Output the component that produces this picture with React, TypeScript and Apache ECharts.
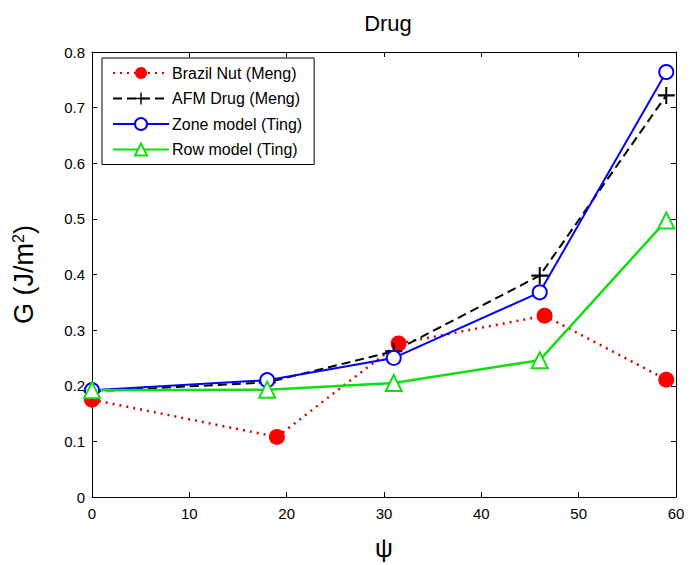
import React, { useEffect, useRef } from "react";
import * as echarts from "echarts";

const seriesNames = ["Brazil Nut (Meng)", "AFM Drug (Meng)", "Zone model (Ting)", "Row model (Ting)"];
const brazilX = [0, 19, 31.5, 46.5, 59];
const brazilY = [0.175, 0.108, 0.276, 0.326, 0.211];
const modelX = [0, 18, 31, 46, 59];
const afmY = [0.19, 0.206, 0.262, 0.398, 0.722];
const zoneY = [0.192, 0.21, 0.25, 0.368, 0.764];
const rowY = [0.192, 0.193, 0.205, 0.246, 0.497];
const xTicks = [0, 10, 20, 30, 40, 50, 60];
const yTicks = [0, 0.1, 0.2, 0.3, 0.4, 0.5, 0.6, 0.7, 0.8];

const pairs = (xs: number[], ys: number[]) => xs.map((x, i) => [x, ys[i]]);
const plusPath = "path://M4.4,0H5.6V4.4H10V5.6H5.6V10H4.4V5.6H0V4.4H4.4Z";
const FONT = "'Liberation Sans', Arial, sans-serif";

export default function App() {
  const ref = useRef<HTMLDivElement>(null);
  useEffect(() => {
    const chart = echarts.init(ref.current!, undefined, { renderer: "svg" });
    const axisCommon = {
      type: "value" as const,
      splitLine: { show: false },
      axisLine: { show: true, onZero: false, lineStyle: { color: "#000", width: 1 } },
      axisTick: { show: true, inside: true, length: 5, lineStyle: { color: "#000" } },
    };
    chart.setOption({
      animation: false,
      backgroundColor: "#fff",
      title: {
        text: "Drug",
        left: 383,
        top: 7,
        textAlign: "center",
        textStyle: { fontFamily: FONT, fontSize: 22, fontWeight: "normal", color: "#000" },
      },
      grid: { left: 92, top: 52, width: 584, height: 455, containLabel: false },
      legend: {
        orient: "vertical",
        left: 102,
        top: 58,
        padding: [7, 12, 7, 10],
        itemGap: 9.5,
        itemWidth: 56,
        itemHeight: 15,
        borderColor: "#000",
        borderWidth: 1,
        backgroundColor: "#fff",
        textStyle: { fontFamily: FONT, fontSize: 16, color: "#000", padding: [0, 6, 0, -2] },
        data: seriesNames,
      },
      xAxis: [
        {
          ...axisCommon,
          min: 0,
          max: 60,
          interval: 10,
          position: "bottom",
          axisLabel: { fontFamily: FONT, fontSize: 15, color: "#000", margin: 9, customValues: xTicks },
          name: "ψ",
          nameLocation: "middle",
          nameGap: 38,
          nameTextStyle: { fontFamily: FONT, fontSize: 25, color: "#000" },
        },
        {
          ...axisCommon,
          min: 0,
          max: 60,
          interval: 10,
          position: "top",
          axisLabel: { show: false },
        },
      ],
      yAxis: [
        {
          ...axisCommon,
          min: 0,
          max: 0.8,
          interval: 0.1,
          position: "left",
          axisLabel: {
            fontFamily: FONT,
            fontSize: 15,
            color: "#000",
            margin: 7,
            customValues: yTicks,
            formatter: (v: number) => String(Math.round(v * 10) / 10),
          },
          name: "G (J/m{sup|2})",
          nameLocation: "middle",
          nameRotate: 90,
          nameGap: 54,
          nameTextStyle: {
            fontFamily: FONT,
            fontSize: 27,
            color: "#000",
            rich: {
              sup: { fontFamily: FONT, fontSize: 16, color: "#000", verticalAlign: "top", padding: [0, 0, 12, 0] },
            },
          },
        },
        {
          ...axisCommon,
          min: 0,
          max: 0.8,
          interval: 0.1,
          position: "right",
          axisLabel: { show: false },
        },
      ],
      series: [
        {
          name: seriesNames[0],
          type: "line",
          data: pairs(brazilX, brazilY),
          symbol: "circle",
          symbolSize: 16,
          itemStyle: { color: "#ff0000" },
          lineStyle: { color: "#dd0000", width: 2.5, type: [2, 5] },
        },
        {
          name: seriesNames[1],
          type: "line",
          data: pairs(modelX, afmY),
          symbol: plusPath,
          symbolSize: 17,
          itemStyle: { color: "#000" },
          lineStyle: { color: "#000", width: 2, type: [9, 5] },
        },
        {
          name: seriesNames[2],
          type: "line",
          data: pairs(modelX, zoneY),
          symbol: "circle",
          symbolSize: 14,
          itemStyle: { color: "#fff", borderColor: "#0000ff", borderWidth: 2 },
          lineStyle: { color: "#0000ff", width: 2 },
        },
        {
          name: seriesNames[3],
          type: "line",
          data: pairs(modelX, rowY),
          symbol: "triangle",
          symbolSize: 16,
          itemStyle: { color: "#fff", borderColor: "#11dd11", borderWidth: 2 },
          lineStyle: { color: "#11dd11", width: 2.5 },
        },
      ],
    });
    return () => chart.dispose();
  }, []);
  return <div ref={ref} style={{ position: "absolute", left: 0, top: 0, width: 691, height: 565 }} />;
}
